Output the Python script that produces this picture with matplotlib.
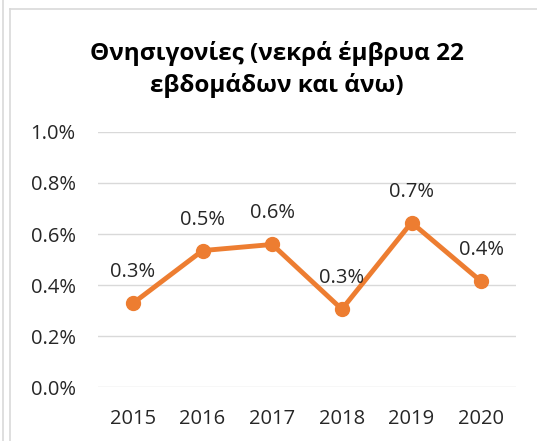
"""Θνησιγονίες ανά έτος, γραμμή με ετικέτες τιμών."""

import matplotlib.pyplot as plt
from matplotlib.lines import Line2D
from matplotlib.ticker import FuncFormatter

plt.rcParams["font.family"] = ["Open Sans", "Noto Sans", "DejaVu Sans"]

years = ["2015", "2016", "2017", "2018", "2019", "2020"]
rates = [0.328, 0.535, 0.559, 0.305, 0.645, 0.414]  # σε %
labels = ["0.3%", "0.5%", "0.6%", "0.3%", "0.7%", "0.4%"]
yticks = [0.0, 0.2, 0.4, 0.6, 0.8, 1.0]

orange = "#ED7D31"

fig = plt.figure(figsize=(5.37, 4.41), dpi=100)
ax = fig.add_axes([0.1825, 0.1224, 0.7785, 0.5783])

x = list(range(len(years)))
ax.plot(x, rates, color=orange, lw=3.5, marker="o", markersize=10,
        solid_capstyle="round", zorder=3)

for xi, yi, lab in zip(x, rates, labels):
    ax.annotate(lab, (xi, yi), xytext=(0, 31), textcoords="offset pixels",
                ha="center", va="center", fontsize=14.5, color="#262626")

# Οριζόντιες γραμμές πλέγματος, χωρίς άξονες
ax.set_xlim(-0.5, len(years) - 0.5)
ax.set_ylim(0, 1.0)
ax.set_yticks(yticks)
ax.yaxis.set_major_formatter(FuncFormatter(lambda v, _: f"{v:.1f}%"))
ax.set_xticks(x)
ax.set_xticklabels(years)
ax.grid(axis="y", color="#D9D9D9", lw=1)
ax.set_axisbelow(True)
for s in ax.spines.values():
    s.set_visible(False)
ax.tick_params(length=0, labelsize=14.5, labelcolor="#262626", pad=16)
ax.tick_params(axis="y", pad=16)

fig.text(0.516, 0.843, "Θνησιγονίες (νεκρά έμβρυα 22\nεβδομάδων και άνω)",
         ha="center", va="center", fontsize=17.5, fontweight="bold",
         linespacing=1.35, color="#000000")

# Περίγραμμα γραφήματος
fig.add_artist(Line2D([10 / 537, 10 / 537], [0, 1 - 9 / 441], color="#D9D9D9", lw=1.2))
fig.add_artist(Line2D([10 / 537, 1], [1 - 9 / 441, 1 - 9 / 441], color="#D9D9D9", lw=1.2))
fig.add_artist(Line2D([3 / 537, 3 / 537], [0, 1], color="#D9D9D9", lw=1.2))

fig.savefig("out.png", dpi=100)
